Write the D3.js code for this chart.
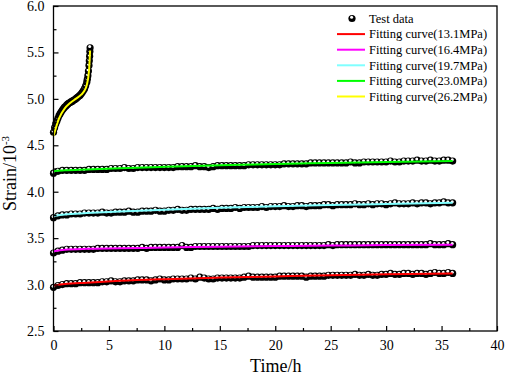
<!DOCTYPE html>
<html>
<head>
<meta charset="utf-8">
<script src="https://cdn.jsdelivr.net/npm/d3@7"></script>
<style>
  body { margin: 0; background: #fff; }
  svg { display: block; }
  svg text { font-family: "Liberation Serif", "Times New Roman", serif; }
</style>
</head>
<body>
<div id="chart"></div>
<script>
// ---- data ----
const stressLevels = ["13.1MPa", "16.4MPa", "19.7MPa", "23.0MPa", "26.2MPa"];
const curveColors = ["#ff0000", "#ff00ff", "#80ffff", "#00ff00", "#ffff00"];

// long-term stages are sampled every 0.4 h from 0 to 36 h
const sampleStep = 0.4;

const strain131 = [
  2.97, 2.99, 3.00, 3.01, 3.01, 3.01, 3.02, 3.02, 3.02, 3.02,
  3.02, 3.03, 3.03, 3.04, 3.03, 3.03, 3.04, 3.04, 3.04, 3.05,
  3.05, 3.05, 3.04, 3.05, 3.06, 3.05, 3.05, 3.06, 3.06, 3.06,
  3.06, 3.07, 3.06, 3.08, 3.07, 3.06, 3.06, 3.07, 3.07, 3.07,
  3.07, 3.07, 3.07, 3.08, 3.09, 3.08, 3.08, 3.08, 3.08, 3.08,
  3.08, 3.09, 3.09, 3.09, 3.09, 3.09, 3.09, 3.08, 3.09, 3.09,
  3.09, 3.09, 3.10, 3.10, 3.10, 3.10, 3.10, 3.10, 3.11, 3.10,
  3.10, 3.11, 3.10, 3.10, 3.11, 3.11, 3.12, 3.11, 3.11, 3.12,
  3.12, 3.11, 3.12, 3.12, 3.11, 3.12, 3.13, 3.12, 3.12, 3.13, 3.12
];
const strain164 = [
  3.34, 3.36, 3.37, 3.38, 3.38, 3.38, 3.38, 3.38, 3.38, 3.38,
  3.39, 3.39, 3.39, 3.39, 3.39, 3.39, 3.39, 3.39, 3.39, 3.39,
  3.40, 3.39, 3.40, 3.40, 3.40, 3.40, 3.40, 3.40, 3.40, 3.42,
  3.40, 3.40, 3.41, 3.41, 3.41, 3.41, 3.41, 3.41, 3.41, 3.41,
  3.41, 3.41, 3.41, 3.41, 3.41, 3.42, 3.42, 3.42, 3.42, 3.42,
  3.42, 3.42, 3.42, 3.42, 3.42, 3.42, 3.42, 3.42, 3.42, 3.42,
  3.42, 3.42, 3.43, 3.42, 3.43, 3.43, 3.43, 3.43, 3.43, 3.43,
  3.43, 3.43, 3.43, 3.43, 3.43, 3.43, 3.43, 3.43, 3.43, 3.43,
  3.43, 3.43, 3.43, 3.43, 3.43, 3.44, 3.43, 3.43, 3.43, 3.44, 3.43
];
const strain197 = [
  3.72, 3.74, 3.75, 3.75, 3.76, 3.76, 3.76, 3.77, 3.77, 3.77,
  3.77, 3.78, 3.77, 3.77, 3.78, 3.78, 3.78, 3.79, 3.78, 3.78,
  3.79, 3.79, 3.79, 3.80, 3.79, 3.79, 3.80, 3.80, 3.81, 3.80,
  3.80, 3.81, 3.81, 3.81, 3.81, 3.81, 3.82, 3.81, 3.82, 3.82,
  3.82, 3.83, 3.82, 3.83, 3.83, 3.83, 3.83, 3.84, 3.83, 3.84,
  3.84, 3.84, 3.85, 3.84, 3.84, 3.85, 3.85, 3.84, 3.85, 3.85,
  3.85, 3.86, 3.86, 3.85, 3.86, 3.86, 3.86, 3.86, 3.87, 3.86,
  3.86, 3.87, 3.86, 3.87, 3.87, 3.86, 3.87, 3.88, 3.87, 3.87,
  3.87, 3.88, 3.87, 3.88, 3.88, 3.87, 3.88, 3.88, 3.89, 3.88, 3.88
];
const strain230 = [
  4.20, 4.22, 4.23, 4.23, 4.23, 4.23, 4.23, 4.23, 4.24, 4.24,
  4.24, 4.24, 4.24, 4.25, 4.25, 4.25, 4.26, 4.25, 4.25, 4.26,
  4.26, 4.26, 4.26, 4.26, 4.26, 4.26, 4.26, 4.26, 4.27, 4.27,
  4.27, 4.27, 4.28, 4.27, 4.27, 4.26, 4.27, 4.28, 4.28, 4.28,
  4.28, 4.28, 4.28, 4.28, 4.29, 4.29, 4.29, 4.29, 4.29, 4.29,
  4.29, 4.29, 4.30, 4.30, 4.30, 4.30, 4.30, 4.30, 4.31, 4.31,
  4.31, 4.31, 4.31, 4.31, 4.31, 4.31, 4.31, 4.32, 4.31, 4.31,
  4.32, 4.32, 4.32, 4.32, 4.32, 4.32, 4.33, 4.32, 4.32, 4.33,
  4.33, 4.33, 4.34, 4.33, 4.33, 4.34, 4.33, 4.33, 4.34, 4.34, 4.33
];

// last stage (26.2 MPa) fails after ~3.3 h
const time262 = [
  0.0, 0.1, 0.2, 0.3, 0.4, 0.5, 0.6, 0.7, 0.8, 0.9,
  1.0, 1.1, 1.2, 1.3, 1.4, 1.5, 1.6, 1.7, 1.8, 1.9,
  2.0, 2.1, 2.2, 2.3, 2.4, 2.5, 2.6, 2.7, 2.8, 2.9,
  3.0, 3.05, 3.1, 3.15, 3.2, 3.23, 3.26, 3.28, 3.3
];
const strain262 = [
  4.64, 4.69, 4.73, 4.76, 4.79, 4.82, 4.84, 4.86, 4.88, 4.895,
  4.91, 4.92, 4.935, 4.945, 4.955, 4.96, 4.97, 4.975, 4.985, 4.99,
  5.00, 5.01, 5.02, 5.03, 5.04, 5.055, 5.07, 5.09, 5.11, 5.14,
  5.18, 5.21, 5.25, 5.30, 5.36, 5.41, 5.46, 5.51, 5.55
];

// fitting curves, [time, strain] knots
const fit131 = [[0, 2.99], [1, 3.005], [3, 3.02], [6, 3.04], [10, 3.058], [15, 3.075], [20, 3.088], [25, 3.10], [30, 3.11], [36, 3.12]];
const fit164 = [[0, 3.36], [1, 3.375], [3, 3.385], [6, 3.39], [10, 3.40], [15, 3.408], [20, 3.415], [25, 3.42], [30, 3.425], [36, 3.43]];
const fit197 = [[0, 3.74], [1, 3.755], [3, 3.77], [6, 3.788], [10, 3.806], [15, 3.826], [20, 3.843], [25, 3.857], [30, 3.868], [36, 3.88]];
const fit230 = [[0, 4.22], [1, 4.23], [3, 4.24], [6, 4.254], [10, 4.268], [15, 4.284], [20, 4.298], [25, 4.31], [30, 4.32], [36, 4.33]];
const fit262 = [[0, 4.60], [0.5, 4.79], [1, 4.895], [1.5, 4.955], [2, 5.0], [2.5, 5.045], [2.8, 5.09], [3.0, 5.15], [3.2, 5.30], [3.3, 5.52]];

const xTicks = [0, 5, 10, 15, 20, 25, 30, 35, 40];
const yTicks = [2.5, 3.0, 3.5, 4.0, 4.5, 5.0, 5.5, 6.0];

// ---- layout ----
const width = 505, height = 378;
const margin = { top: 6, right: 8, bottom: 47, left: 53.5 };
const innerW = width - margin.left - margin.right;
const innerH = height - margin.top - margin.bottom;
const serif = "'Liberation Serif', 'Times New Roman', serif";

const svg = d3.select("#chart").append("svg")
  .attr("width", width)
  .attr("height", height)
  .attr("font-family", serif);

const g = svg.append("g").attr("transform", `translate(${margin.left},${margin.top})`);

const x = d3.scaleLinear().domain([0, 40]).range([0, innerW]);
const y = d3.scaleLinear().domain([2.5, 6.0]).range([innerH, 0]);

// sphere-like marker: black ball with a white highlight
function drawTestData(times, values) {
  const pts = values.map((v, i) => ({ t: times[i], v }));
  const marks = g.append("g").selectAll("g")
    .data(pts)
    .join("g")
    .attr("transform", d => `translate(${x(d.t)},${y(d.v)})`);
  marks.append("circle").attr("r", 3.6).attr("fill", "#000");
  marks.append("circle").attr("cx", -0.4).attr("cy", -1.2).attr("r", 1.5).attr("fill", "#fff");
}

const longSeries = [strain131, strain164, strain197, strain230];
longSeries.forEach(vals => {
  const times = vals.map((_, i) => i * sampleStep);
  drawTestData(times, vals);
});
drawTestData(time262, strain262);

// fitting curves on top of the points
const line = d3.line()
  .curve(d3.curveMonotoneX)
  .x(d => x(d[0]))
  .y(d => y(d[1]));

[fit131, fit164, fit197, fit230, fit262].forEach((fit, i) => {
  g.append("path")
    .datum(fit)
    .attr("fill", "none")
    .attr("stroke", curveColors[i])
    .attr("stroke-width", 2)
    .attr("d", line);
});

// ---- axes (inward ticks) ----
g.append("g")
  .attr("transform", `translate(0,${innerH})`)
  .call(d3.axisBottom(x).tickValues(xTicks).tickSize(-5).tickPadding(9).tickFormat(d3.format("d")));
g.append("g")
  .attr("transform", `translate(0,${innerH})`)
  .call(d3.axisBottom(x).tickValues(xTicks.slice(0, -1).map(d => d + 2.5)).tickSize(-3).tickFormat(""));

g.append("g")
  .call(d3.axisLeft(y).tickValues(yTicks).tickSize(-5).tickPadding(9).tickFormat(d3.format(".1f")));
g.append("g")
  .call(d3.axisLeft(y).tickValues(yTicks.slice(0, -1).map(d => d + 0.25)).tickSize(-3).tickFormat(""));

g.selectAll(".domain").remove();
g.selectAll(".tick line").attr("stroke", "#000").attr("stroke-width", 1.2);
g.selectAll("g[font-family]").attr("font-family", serif).attr("font-size", 14);
g.selectAll(".tick text").attr("fill", "#000");

// frame
g.append("rect")
  .attr("width", innerW)
  .attr("height", innerH)
  .attr("fill", "none")
  .attr("stroke", "#000")
  .attr("stroke-width", 1.3);

// axis titles
svg.append("text")
  .attr("x", margin.left + innerW / 2 + 0.5)
  .attr("y", 372)
  .attr("text-anchor", "middle")
  .attr("font-size", 18)
  .text("Time/h");

const yTitle = svg.append("text")
  .attr("transform", `translate(16,${margin.top + innerH / 2 + 5}) rotate(-90)`)
  .attr("text-anchor", "middle")
  .attr("font-size", 18);
yTitle.append("tspan").text("Strain/10");
yTitle.append("tspan").attr("dy", -7).attr("font-size", 11).text("-3");

// ---- legend ----
const legend = svg.append("g").attr("transform", "translate(337,18.5)");
const rowH = 15.6;
const legendFont = 12.5;

const first = legend.append("g");
first.append("circle").attr("cx", 15).attr("cy", 0).attr("r", 3.6).attr("fill", "#000");
first.append("circle").attr("cx", 14.6).attr("cy", -1.2).attr("r", 1.5).attr("fill", "#fff");
first.append("text").attr("x", 32).attr("y", 4.3).attr("font-size", legendFont).text("Test data");

stressLevels.forEach((lvl, i) => {
  const row = legend.append("g").attr("transform", `translate(0,${(i + 1) * rowH})`);
  row.append("line")
    .attr("x1", 0).attr("x2", 28)
    .attr("stroke", curveColors[i])
    .attr("stroke-width", 2);
  row.append("text")
    .attr("x", 32).attr("y", 4.3)
    .attr("font-size", legendFont)
    .text(`Fitting curve(${lvl})`);
});
</script>
</body>
</html>
